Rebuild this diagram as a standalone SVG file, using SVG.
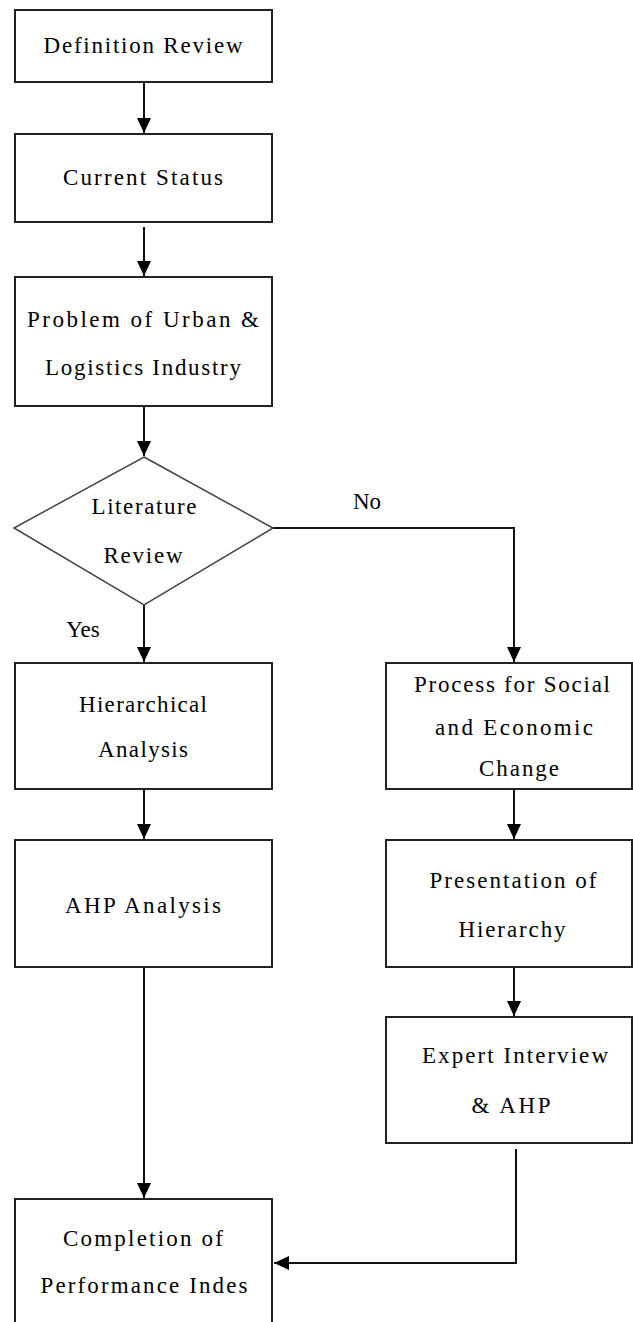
<svg xmlns="http://www.w3.org/2000/svg" width="633" height="1322" viewBox="0 0 633 1322">
<style>
.box{fill:#fff;stroke:#222;stroke-width:2}
.dia{fill:#fff;stroke:#444;stroke-width:1.5}
.t{font-family:"Liberation Serif","Times New Roman",serif;font-size:23px;fill:#000;text-anchor:middle}
.c{fill:none;stroke:#111;stroke-width:2}
</style>
<defs>
<marker id="ah" markerUnits="userSpaceOnUse" markerWidth="16" markerHeight="16" viewBox="0 0 16 16" refX="15" refY="8" orient="auto">
<path d="M0,1 L15,8 L0,15 Z" fill="#000"/>
</marker>
</defs>
<rect width="633" height="1322" fill="#fff"/>
<g id="connectors">
<path class="c" d="M144,82 V133" marker-end="url(#ah)"/>
<path class="c" d="M144,227 V276" marker-end="url(#ah)"/>
<path class="c" d="M144,406 V456" marker-end="url(#ah)"/>
<path class="c" d="M144,605 V662" marker-end="url(#ah)"/>
<path class="c" d="M273,528 H514 V662" marker-end="url(#ah)"/>
<path class="c" d="M144,789 V839" marker-end="url(#ah)"/>
<path class="c" d="M514,789 V839" marker-end="url(#ah)"/>
<path class="c" d="M514,967 V1016" marker-end="url(#ah)"/>
<path class="c" d="M144,967 V1198" marker-end="url(#ah)"/>
<path class="c" d="M516,1149 V1263 H274" marker-end="url(#ah)"/>
</g>
<g id="n1"><rect class="box" x="15" y="10" width="257" height="72"/><text class="t" x="143" y="53" textLength="199" lengthAdjust="spacing">Definition Review</text></g>
<g id="n2"><rect class="box" x="15" y="134" width="257" height="88"/><text class="t" x="143" y="185" textLength="160" lengthAdjust="spacing">Current Status</text></g>
<g id="n3"><rect class="box" x="15" y="277" width="257" height="129"/><text class="t" x="143" y="327" textLength="232" lengthAdjust="spacing">Problem of Urban &amp;</text><text class="t" x="143" y="375" textLength="196" lengthAdjust="spacing">Logistics Industry</text></g>
<g id="n4"><polygon class="dia" points="144,457 273,528 144,605 14,528"/><text class="t" x="144" y="514" textLength="105" lengthAdjust="spacing">Literature</text><text class="t" x="143" y="563" textLength="79" lengthAdjust="spacing">Review</text></g>
<g id="lbl-no"><text class="t" x="367" y="509">No</text></g>
<g id="lbl-yes"><text class="t" x="83" y="637">Yes</text></g>
<g id="n5"><rect class="box" x="15" y="663" width="257" height="126"/><text class="t" x="143" y="712" textLength="128" lengthAdjust="spacing">Hierarchical</text><text class="t" x="143" y="757" textLength="90" lengthAdjust="spacing">Analysis</text></g>
<g id="n6"><rect class="box" x="386" y="663" width="246" height="126"/><text class="t" x="512" y="692" textLength="196" lengthAdjust="spacing">Process for Social</text><text class="t" x="514" y="735" textLength="158" lengthAdjust="spacing">and Economic</text><text class="t" x="519" y="776" textLength="80" lengthAdjust="spacing">Change</text></g>
<g id="n7"><rect class="box" x="15" y="840" width="257" height="127"/><text class="t" x="143" y="913" textLength="156" lengthAdjust="spacing">AHP Analysis</text></g>
<g id="n8"><rect class="box" x="386" y="840" width="246" height="127"/><text class="t" x="513" y="888" textLength="167" lengthAdjust="spacing">Presentation of</text><text class="t" x="512" y="937" textLength="107" lengthAdjust="spacing">Hierarchy</text></g>
<g id="n9"><rect class="box" x="386" y="1017" width="246" height="126"/><text class="t" x="515" y="1063" textLength="186" lengthAdjust="spacing">Expert Interview</text><text class="t" x="511" y="1113" textLength="79" lengthAdjust="spacing">&amp; AHP</text></g>
<g id="n10"><rect class="box" x="15" y="1199" width="257" height="140"/><text class="t" x="143" y="1246" textLength="160" lengthAdjust="spacing">Completion of</text><text class="t" x="144" y="1293" textLength="207" lengthAdjust="spacing">Performance Indes</text></g>
</svg>
